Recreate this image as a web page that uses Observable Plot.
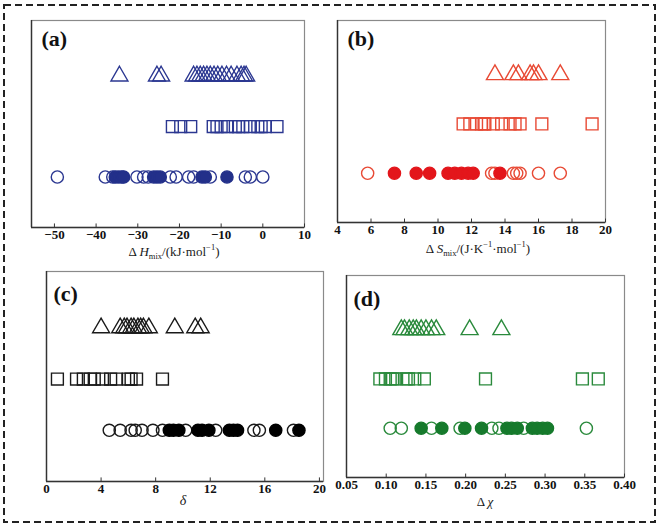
<!DOCTYPE html>
<html><head><meta charset="utf-8">
<script src="https://cdn.jsdelivr.net/npm/d3@7"></script>
<script src="https://cdn.jsdelivr.net/npm/@observablehq/plot@0.6"></script>
<style>
body{margin:0;background:#fff;}
#wrap{position:relative;width:661px;height:528px;overflow:hidden;background:#fff;}
.p{position:absolute;}
.p svg{overflow:visible;}
.t{position:absolute;font-family:"Liberation Serif",serif;font-size:13px;white-space:nowrap;transform:translate(-50%,-50%);color:#1a1a1a;line-height:1;}
.t sub,.t sup{font-size:8.5px;line-height:0;}
</style></head><body><div id="wrap"></div><script>
// ---------- data ----------
// (a) ΔHmix, kJ/mol
const aTicks = [-50, -40, -30, -20, -10, 0, 10];
const aTri  = [-34.4, -25.4, -24.4, -16.6, -15.8, -15.0, -14.2, -13.4, -12.6, -11.7, -10.8, -9.8, -8.7, -7.6, -6.2, -5.2, -4.5, -4.0];
const aSq   = [-21.7, -19.7, -17.3, -11.9, -11.0, -10.0, -8.5, -6.6, -5.8, -4.8, -3.0, -1.2, -0.4, 0.6, 3.4];
const aOpen = [-49.3, -37.8, -36.0, -30.2, -28.6, -27.5, -22.2, -20.8, -17.8, -16.6, -12.6, -4.2, -3.0, 0.0];
const aFill = [-35.4, -34.6, -33.8, -33.4, -26.2, -25.4, -24.6, -14.6, -13.8, -8.6];
// (b) ΔSmix, J/(K·mol)
const bTicks = [4, 6, 8, 10, 12, 14, 16, 18, 20];
const bTri  = [13.4, 14.5, 14.8, 15.5, 15.7, 16.0, 17.3];
const bSq   = [11.5, 11.9, 12.3, 12.6, 12.75, 12.8, 13.3, 13.8, 14.3, 14.6, 14.9, 16.2, 19.2];
const bOpen = [5.8, 13.2, 13.4, 14.5, 14.7, 14.9, 16.0, 17.3];
const bFill = [7.4, 8.7, 9.5, 10.6, 11.0, 11.4, 11.8, 12.1, 13.7];
// (c) δ
const cTicks = [0, 4, 8, 12, 16, 20];
const cTri  = [4.0, 5.4, 5.7, 5.9, 6.2, 6.4, 6.7, 6.9, 7.1, 7.5, 9.4, 10.9, 11.3];
const cSq   = [0.8, 2.2, 2.7, 3.2, 3.5, 4.1, 4.7, 5.1, 6.0, 6.2, 6.6, 8.5];
const cOpen = [4.6, 5.4, 6.2, 6.5, 7.0, 7.8, 8.5, 10.2, 12.4, 15.2, 15.6, 18.1];
const cFill = [9.0, 9.3, 9.7, 11.1, 11.4, 11.9, 13.4, 13.7, 14.0, 16.8, 18.5];
// (d) Δχ
const dTicks = [0.05, 0.10, 0.15, 0.20, 0.25, 0.30, 0.35, 0.40];
const dTri  = [0.119, 0.123, 0.129, 0.134, 0.138, 0.144, 0.150, 0.157, 0.163, 0.205, 0.245];
const dSq   = [0.092, 0.099, 0.105, 0.108, 0.112, 0.125, 0.128, 0.136, 0.148, 0.225, 0.347, 0.367];
const dOpen = [0.105, 0.119, 0.157, 0.193, 0.233, 0.242, 0.273, 0.352];
const dFill = [0.144, 0.170, 0.199, 0.220, 0.252, 0.258, 0.265, 0.284, 0.290, 0.297, 0.303];

const rowTri = 3, rowSq = 2, rowCirc = 1;

const wrap = document.getElementById("wrap");

// dashed outer border
wrap.insertAdjacentHTML("beforeend",
  `<svg class="p" style="left:0;top:0" width="661" height="528"><rect x="4" y="5" width="651" height="517" fill="none" stroke="#222" stroke-width="2" stroke-dasharray="7,4"/></svg>`);

function panel(o) {
  const yDom = [0, 4.1];
  const chart = Plot.plot({
    width: o.width, height: o.height,
    marginLeft: o.mL, marginRight: o.mR, marginTop: o.mT, marginBottom: o.mB,
    x: {domain: o.xDomain},
    y: {domain: yDom, axis: null},
    style: {fontFamily: "Liberation Serif, serif", fontSize: "13px", color: "#111", background: "transparent", overflow: "visible"},
    marks: [
      Plot.frame({stroke: "#8a8a8a", strokeWidth: 1.2}),
      Plot.ruleX([o.xDomain[0]], {stroke: "#333", strokeWidth: 1.4}),
      Plot.ruleY([yDom[0]], {stroke: "#333", strokeWidth: 1.4}),
      Plot.ruleX(o.ticks, {x: d => d, y1: yDom[0], y2: 0.07, stroke: "#333", strokeWidth: 1}),
      Plot.axisX(o.ticks, {tickSize: 0, tickPadding: 2, tickFormat: o.fmt, label: null, fontSize: 13, fontWeight: "bold", fill: "#111"}),
      Plot.dot(o.tri, {x: d => d, y: () => rowTri, symbol: "triangle", r: 6.3, stroke: o.color, fill: "none", strokeWidth: 1.4}),
      Plot.dot(o.sq, {x: d => d, y: () => rowSq, symbol: "square", r: 6.7, stroke: o.color, fill: "none", strokeWidth: 1.4}),
      Plot.dot(o.open, {x: d => d, y: () => rowCirc, symbol: "circle", r: 6.1, stroke: o.color, fill: "none", strokeWidth: 1.4}),
      Plot.dot(o.fill, {x: d => d, y: () => rowCirc, symbol: "circle", r: 6.1, stroke: o.fillColor, fill: o.fillColor, strokeWidth: 1.4}),
      Plot.text([o.label], {text: d => d, frameAnchor: "top-left", dx: o.ldx, dy: o.ldy, textAnchor: "start", lineAnchor: "top", fontSize: 22, fontWeight: "bold", fill: "#111"})
    ]
  });
  const div = document.createElement("div");
  div.className = "p";
  div.style.left = o.left + "px";
  div.style.top = o.top + "px";
  div.appendChild(chart);
  wrap.appendChild(div);
  wrap.insertAdjacentHTML("beforeend", `<div class="t" style="left:${o.tx}px;top:${o.ty}px;${o.tStyle || ""}">${o.title}</div>`);
}

const f2 = d3.format(".2f");

panel({left: 0, top: 0, width: 330, height: 270, mL: 31, mR: 26, mT: 20, mB: 43,
  xDomain: [-55.5, 10], ticks: aTicks, fmt: d => String(d).replace("-", "\u2212"),
  color: "#2b3791", fillColor: "#23308a", tri: aTri, sq: aSq, open: aOpen, fill: aFill,
  label: "(a)", ldx: 10, ldy: 10,
  title: "Δ <i>H</i><sub>mix</sub>/(kJ·mol<sup>−1</sup>)", tx: 174, ty: 251});

panel({left: 320, top: 0, width: 330, height: 270, mL: 17, mR: 45, mT: 20, mB: 48,
  xDomain: [4, 20], ticks: bTicks, fmt: d => String(d),
  color: "#e84a35", fillColor: "#e3161b", tri: bTri, sq: bSq, open: bOpen, fill: bFill,
  label: "(b)", ldx: 10, ldy: 10,
  title: "Δ <i>S</i><sub>mix</sub>/(J·K<sup>−1</sup>·mol<sup>−1</sup>)", tx: 478, ty: 248});

panel({left: 0, top: 260, width: 330, height: 268, mL: 46, mR: 7, mT: 11, mB: 47,
  xDomain: [0, 20.3], ticks: cTicks, fmt: d => String(d),
  color: "#1a1a1a", fillColor: "#000", tri: cTri, sq: cSq, open: cOpen, fill: cFill,
  label: "(c)", ldx: 7, ldy: 14,
  title: "<i>δ</i>", tx: 183, ty: 501, tStyle: "font-size:14px;"});

panel({left: 330, top: 260, width: 331, height: 268, mL: 16, mR: 37, mT: 15, mB: 51,
  xDomain: [0.05, 0.40], ticks: dTicks, fmt: f2,
  color: "#2a8a3c", fillColor: "#167a2c", tri: dTri, sq: dSq, open: dOpen, fill: dFill,
  label: "(d)", ldx: 7, ldy: 15,
  title: "Δ <i>χ</i>", tx: 485, ty: 501});
</script></body></html>
